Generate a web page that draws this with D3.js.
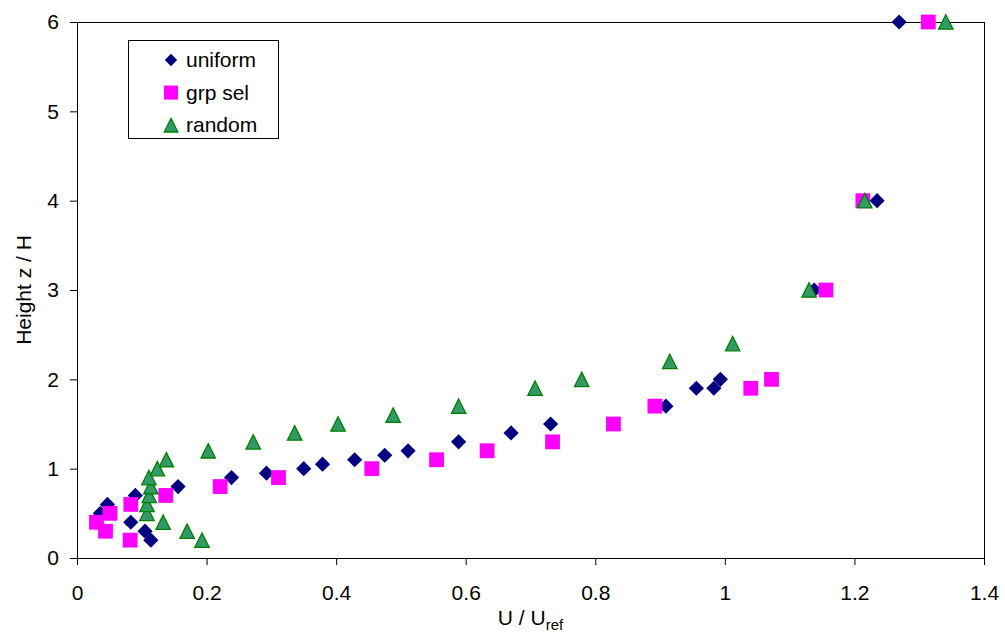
<!DOCTYPE html>
<html>
<head>
<meta charset="utf-8">
<script src="https://cdn.jsdelivr.net/npm/d3@7"></script>
<style>
  html, body { margin: 0; padding: 0; background: #fff; }
  svg { display: block; font-family: "Liberation Sans", Arial, sans-serif; }
</style>
</head>
<body>
<svg id="chart" width="1005" height="633"></svg>
<script>
// Velocity profiles: normalised speed U/Uref against height z/H
const uniformU = [0.114, 0.105, 0.083, 0.036, 0.047, 0.090, 0.156, 0.2385, 0.2925, 0.350, 0.379, 0.4286, 0.475, 0.511, 0.589, 0.670, 0.731, 0.909, 0.956, 0.983, 0.993, 1.138, 1.235, 1.269];
const uniformZ = [0.2, 0.3, 0.4, 0.5, 0.6, 0.7, 0.8, 0.9, 0.95, 1.0, 1.05, 1.1, 1.15, 1.2, 1.3, 1.4, 1.5, 1.7, 1.9, 1.9, 2.0, 3, 4, 6];

const grpSelU = [0.082, 0.044, 0.030, 0.051, 0.083, 0.137, 0.221, 0.311, 0.455, 0.555, 0.633, 0.734, 0.828, 0.892, 1.040, 1.072, 1.156, 1.213, 1.314];
const grpSelZ = [0.2, 0.3, 0.4, 0.5, 0.6, 0.7, 0.8, 0.9, 1.0, 1.1, 1.2, 1.3, 1.5, 1.7, 1.9, 2.0, 3, 4, 6];

const randomU = [0.193, 0.170, 0.133, 0.108, 0.108, 0.1115, 0.114, 0.111, 0.124, 0.138, 0.2025, 0.272, 0.336, 0.403, 0.488, 0.589, 0.707, 0.779, 0.915, 1.012, 1.130, 1.216, 1.341];
const randomZ = [0.2, 0.3, 0.4, 0.5, 0.6, 0.7, 0.8, 0.9, 1.0, 1.1, 1.2, 1.3, 1.4, 1.5, 1.6, 1.7, 1.9, 2.0, 2.2, 2.4, 3, 4, 6];

const seriesNames = ["uniform", "grp sel", "random"];
const xTicks = [0, 0.2, 0.4, 0.6, 0.8, 1, 1.2, 1.4];
const yTicks = [0, 1, 2, 3, 4, 5, 6];

const svg = d3.select("#chart");
const plotL = 77, plotR = 984, plotT = 22, plotB = 558;

const x = d3.scaleLinear().domain([0, 1.4]).range([plotL, plotR]);
const y = d3.scaleLinear().domain([0, 6]).range([plotB, plotT]);

// plot area frame
svg.append("rect")
  .attr("x", plotL + 0.5).attr("y", plotT + 0.5)
  .attr("width", plotR - plotL).attr("height", plotB - plotT)
  .attr("fill", "none").attr("stroke", "#000").attr("stroke-width", 1);

const fmt = d => String(+d.toFixed(1));

const xAxis = svg.append("g")
  .attr("transform", `translate(0,${plotB})`)
  .call(d3.axisBottom(x).tickValues(xTicks).tickFormat(fmt).tickSize(7).tickSizeOuter(0).tickPadding(20));

const yAxis = svg.append("g")
  .attr("transform", `translate(${plotL},0)`)
  .call(d3.axisLeft(y).tickValues(yTicks).tickFormat(fmt).tickSize(7).tickSizeOuter(0).tickPadding(11));

[xAxis, yAxis].forEach(g => {
  g.selectAll("text").attr("font-size", 21).attr("font-family", "Liberation Sans, Arial, sans-serif").attr("fill", "#000");
  g.selectAll("line, path").attr("stroke", "#000");
});

// axis titles
const xt = svg.append("text")
  .attr("x", (plotL + plotR) / 2).attr("y", 625)
  .attr("text-anchor", "middle").attr("font-size", 21);
xt.append("tspan").text("U / U");
xt.append("tspan").attr("font-size", 15).attr("dy", 4.5).text("ref");

svg.append("text")
  .attr("transform", `translate(31,${(plotT + plotB) / 2}) rotate(-90)`)
  .attr("text-anchor", "middle").attr("font-size", 21)
  .text("Height z / H");

// marker shapes
const diamond = s => `M0,${-s}L${s},0L0,${s}L${-s},0Z`;
const square = s => `M${-s},${-s}H${s}V${s}H${-s}Z`;
const triangle = s => `M0,${-s}L${s},${s}L${-s},${s}Z`;

const styles = [
  { path: diamond(7.6), fill: "#000080", stroke: "none", sw: 0 },
  { path: square(7.4), fill: "#FF00FF", stroke: "none", sw: 0 },
  { path: triangle(7.2), fill: "#339966", stroke: "#008000", sw: 1.3 }
];

const data = [
  uniformU.map((u, i) => ({ u, z: uniformZ[i] })),
  grpSelU.map((u, i) => ({ u, z: grpSelZ[i] })),
  randomU.map((u, i) => ({ u, z: randomZ[i] }))
];

data.forEach((pts, k) => {
  const st = styles[k];
  svg.append("g").selectAll("path")
    .data(pts)
    .join("path")
    .attr("transform", d => `translate(${x(d.u)},${y(d.z)})`)
    .attr("d", st.path)
    .attr("fill", st.fill)
    .attr("stroke", st.stroke)
    .attr("stroke-width", st.sw);
});

// legend
const lg = svg.append("g");
lg.append("rect")
  .attr("x", 128.5).attr("y", 40.5).attr("width", 150).attr("height", 98)
  .attr("fill", "#fff").attr("stroke", "#000").attr("stroke-width", 1);

const legendMarkers = [diamond(6.2), square(7), triangle(6.8)];
seriesNames.forEach((name, i) => {
  const cy = 60 + i * 32.6;
  const st = styles[i];
  lg.append("path")
    .attr("transform", `translate(171,${cy})`)
    .attr("d", legendMarkers[i])
    .attr("fill", st.fill).attr("stroke", st.stroke).attr("stroke-width", st.sw);
  lg.append("text")
    .attr("x", 186).attr("y", cy + 7)
    .attr("font-size", 21)
    .text(name);
});
</script>
</body>
</html>
